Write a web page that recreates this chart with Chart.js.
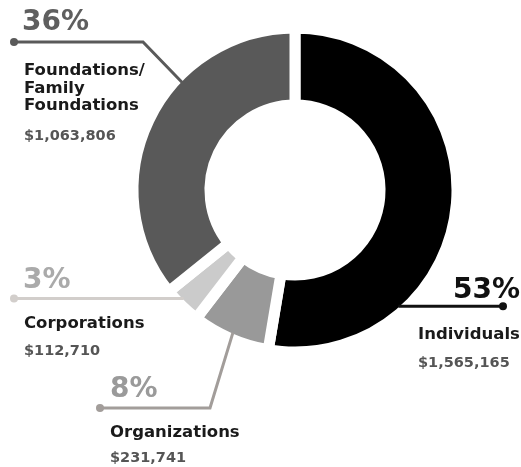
<!DOCTYPE html>
<html>
<head>
<meta charset="utf-8">
<script src="https://cdn.jsdelivr.net/npm/chart.js@4.4.0/dist/chart.umd.min.js"></script>
<style>
  html, body { margin: 0; padding: 0; background: #ffffff; }
  body { width: 521px; height: 467px; overflow: hidden; }
  #c { display: block; }
</style>
</head>
<body>
<canvas id="c" width="521" height="467"></canvas>
<script>
// data
const categories = [['Individuals'], ['Organizations'], ['Corporations'], ['Foundations/', 'Family', 'Foundations']];
const amounts = [1565165, 231741, 112710, 1063806];
const percentLabels = ['53%', '8%', '3%', '36%'];
const sliceColors = ['#000000', '#999999', '#cbcbcb', '#595959'];

const GAP = 11;
const FONT = '"DejaVu Sans", sans-serif';

// where each callout sits (layout only)
const callouts = [
  { frac: 0.73, elbow: null, dotX: 503, line: '#111111', pct: { x: 453, y: 298, color: '#111111' }, textX: 418, nameY: 339, valueY: 367 },
  { frac: 0.5, elbow: { x: 210, y: 408 }, dotX: 100, line: '#a29d9a', pct: { x: 110, y: 397, color: '#9a9a9a' }, textX: 110, nameY: 437, valueY: 462 },
  { frac: 0.6, elbow: null, dotX: 14, line: '#d2cecb', pct: { x: 23, y: 288, color: '#aaaaaa' }, textX: 24, nameY: 328, valueY: 355 },
  { frac: 0.64, elbow: { x: 143, y: 42 }, dotX: 14, line: '#5a5a5a', pct: { x: 22, y: 30, color: '#5f5f5f' }, textX: 24, nameY: 75, valueY: 140 }
];

const calloutPlugin = {
  id: 'callouts',
  afterDraw(chart) {
    const ctx = chart.ctx;
    const arcs = chart.getDatasetMeta(0).data;
    arcs.forEach((arc, i) => {
      const c = callouts[i];
      const p = arc.getProps(['x', 'y', 'startAngle', 'endAngle', 'outerRadius'], true);
      const a = p.startAngle + c.frac * (p.endAngle - p.startAngle);
      const r = p.outerRadius - GAP / 2 - 1;
      const ax = p.x + r * Math.cos(a);
      const ay = p.y + r * Math.sin(a);

      ctx.save();
      ctx.strokeStyle = c.line;
      ctx.fillStyle = c.line;
      ctx.lineWidth = 3;
      ctx.beginPath();
      ctx.moveTo(ax, ay);
      let ly = ay;
      if (c.elbow) {
        ctx.lineTo(c.elbow.x, c.elbow.y);
        ly = c.elbow.y;
      }
      ctx.lineTo(c.dotX, ly);
      ctx.stroke();
      ctx.beginPath();
      ctx.arc(c.dotX, ly, 4, 0, Math.PI * 2);
      ctx.fill();

      ctx.textBaseline = 'alphabetic';
      ctx.textAlign = 'left';
      ctx.font = 'bold 28px ' + FONT;
      ctx.fillStyle = c.pct.color;
      ctx.fillText(percentLabels[i], c.pct.x, c.pct.y);

      ctx.font = 'bold 16.5px ' + FONT;
      ctx.fillStyle = '#1a1a1a';
      categories[i].forEach((t, k) => ctx.fillText(t, c.textX, c.nameY + k * 17.5));

      ctx.font = 'bold 14.5px ' + FONT;
      ctx.fillStyle = '#555555';
      ctx.fillText('$' + amounts[i].toLocaleString('en-US'), c.textX, c.valueY);
      ctx.restore();
    });
  }
};

new Chart(document.getElementById('c').getContext('2d'), {
  type: 'doughnut',
  data: {
    labels: categories,
    datasets: [{
      data: amounts,
      backgroundColor: sliceColors,
      borderColor: '#ffffff',
      borderWidth: GAP,
      hoverOffset: 0
    }]
  },
  options: {
    responsive: false,
    animation: false,
    devicePixelRatio: 1,
    radius: 162,
    cutout: 79,
    layout: { padding: { left: 139, right: 70, top: 34, bottom: 121 } },
    plugins: {
      legend: { display: false },
      tooltip: { enabled: false }
    }
  },
  plugins: [calloutPlugin]
});
</script>
</body>
</html>
